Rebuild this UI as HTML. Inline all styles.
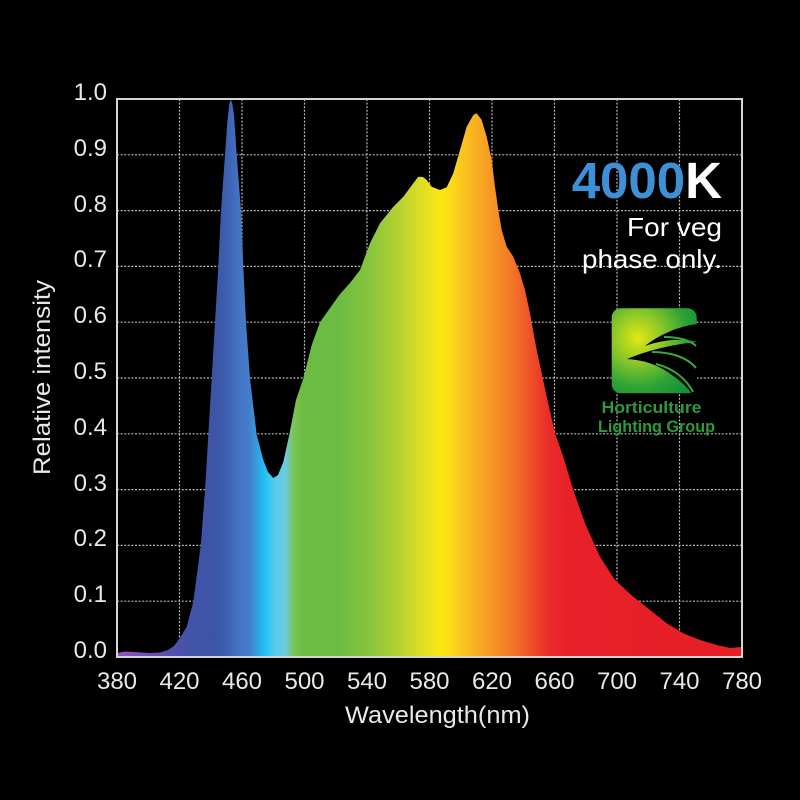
<!DOCTYPE html>
<html><head><meta charset="utf-8"><style>
html,body{margin:0;padding:0;background:#000;}
svg{display:block;}
text{font-family:"Liberation Sans",Arial,sans-serif;}
</style></head><body>
<svg width="800" height="800" viewBox="0 0 800 800" xmlns="http://www.w3.org/2000/svg">
<defs>
<linearGradient id="spec" gradientUnits="userSpaceOnUse" x1="117" y1="0" x2="742" y2="0">
<stop offset="0" stop-color="#9a50c0"/>
<stop offset="0.077" stop-color="#5a50b0"/>
<stop offset="0.109" stop-color="#4652a8"/>
<stop offset="0.157" stop-color="#3c55a6"/>
<stop offset="0.173" stop-color="#3e5eb0"/>
<stop offset="0.192" stop-color="#4470c0"/>
<stop offset="0.213" stop-color="#4380cc"/>
<stop offset="0.229" stop-color="#2aaee8"/>
<stop offset="0.238" stop-color="#20c4f2"/>
<stop offset="0.253" stop-color="#5ccaea"/>
<stop offset="0.270" stop-color="#6ccbe0"/>
<stop offset="0.283" stop-color="#7cc454"/>
<stop offset="0.296" stop-color="#6cbc44"/>
<stop offset="0.357" stop-color="#6cbc44"/>
<stop offset="0.405" stop-color="#88c43e"/>
<stop offset="0.453" stop-color="#b8d230"/>
<stop offset="0.493" stop-color="#e4e020"/>
<stop offset="0.520" stop-color="#fae812"/>
<stop offset="0.536" stop-color="#fcd81a"/>
<stop offset="0.565" stop-color="#f9b820"/>
<stop offset="0.597" stop-color="#f69a24"/>
<stop offset="0.629" stop-color="#f27a28"/>
<stop offset="0.661" stop-color="#ee5228"/>
<stop offset="0.690" stop-color="#ea2c2a"/>
<stop offset="0.725" stop-color="#e8202a"/>
<stop offset="1" stop-color="#e61e25"/>
</linearGradient>
<radialGradient id="logo" gradientUnits="userSpaceOnUse" cx="638" cy="338" r="70">
<stop offset="0" stop-color="#e2e812"/>
<stop offset="0.35" stop-color="#8cc828"/>
<stop offset="0.7" stop-color="#2fa436"/>
<stop offset="1" stop-color="#139038"/>
</radialGradient>
</defs>

<rect x="0" y="0" width="800" height="800" fill="#000"/>

<!-- grid -->
<g stroke="#b8b8b8" stroke-width="1.2" stroke-dasharray="2 1.6" fill="none">
<line x1="179.5" y1="99" x2="179.5" y2="657"/>
<line x1="242" y1="99" x2="242" y2="657"/>
<line x1="304.5" y1="99" x2="304.5" y2="657"/>
<line x1="367" y1="99" x2="367" y2="657"/>
<line x1="429.5" y1="99" x2="429.5" y2="657"/>
<line x1="492" y1="99" x2="492" y2="657"/>
<line x1="554.5" y1="99" x2="554.5" y2="657"/>
<line x1="617" y1="99" x2="617" y2="657"/>
<line x1="679.5" y1="99" x2="679.5" y2="657"/>
<line x1="117" y1="154.8" x2="742" y2="154.8"/>
<line x1="117" y1="210.6" x2="742" y2="210.6"/>
<line x1="117" y1="266.4" x2="742" y2="266.4"/>
<line x1="117" y1="322.2" x2="742" y2="322.2"/>
<line x1="117" y1="378" x2="742" y2="378"/>
<line x1="117" y1="433.8" x2="742" y2="433.8"/>
<line x1="117" y1="489.6" x2="742" y2="489.6"/>
<line x1="117" y1="545.4" x2="742" y2="545.4"/>
<line x1="117" y1="601.2" x2="742" y2="601.2"/>
</g>

<!-- spectrum -->
<polygon fill="url(#spec)" points="117,657 117,653 125,651.5 135,652 150,653 160,652.5 168,650 174,646 180,638 186.7,626.7 193.3,601.7 200.7,546 205,490.6 208.3,434.8 211.7,378.6 215,322.2 218.3,266.4 221,210.6 225,154.8 227.5,120 229.3,104 230.7,99.5 232.2,103 234,115 236.7,154.8 241,210.6 243.3,266.4 246,322.2 250,378.6 256.7,434.8 263.3,460 268,472 273.3,478 278,475 283.3,462 289.3,434.8 296,400 303.3,378.6 311.7,345 320,322.2 330,308 340,294 350,283 360,270 370,243.3 380,223.3 393.3,206.7 403.3,196.7 413.3,183.3 418.3,176.7 423,177 426.7,180 431.7,186.7 440,190 446.7,187.3 453.3,173.3 460,150 466.7,126.7 473.3,115 476.7,113.3 481.7,120 486.7,136.7 491.7,160 495,186.7 498.3,210 501.7,230 506.7,246.7 513.3,256.7 520,273.3 525,290 530,313.3 536.7,350 546.7,396.7 555,433.3 563.3,456.7 573.3,490 585,523.3 600,556.7 615,580 633.3,596.7 650,610 666.7,623.3 683.3,633.3 700,640 716.7,645 730,648 741,647 741,657"/>

<!-- frame -->
<rect x="117" y="99" width="625" height="558" fill="none" stroke="#d4d4d4" stroke-width="2"/>

<!-- y tick labels -->
<g fill="#e8e8e8" font-size="24" text-anchor="end">
<text x="107" y="100">1.0</text>
<text x="107" y="156">0.9</text>
<text x="107" y="212">0.8</text>
<text x="107" y="267">0.7</text>
<text x="107" y="323">0.6</text>
<text x="107" y="379">0.5</text>
<text x="107" y="435">0.4</text>
<text x="107" y="491">0.3</text>
<text x="107" y="546">0.2</text>
<text x="107" y="602">0.1</text>
<text x="107" y="658">0.0</text>
</g>

<!-- x tick labels -->
<g fill="#e8e8e8" font-size="24" text-anchor="middle">
<text x="117" y="689">380</text>
<text x="179.5" y="689">420</text>
<text x="242" y="689">460</text>
<text x="304.5" y="689">500</text>
<text x="367" y="689">540</text>
<text x="429.5" y="689">580</text>
<text x="492" y="689">620</text>
<text x="554.5" y="689">660</text>
<text x="617" y="689">700</text>
<text x="679.5" y="689">740</text>
<text x="742" y="689">780</text>
</g>

<!-- axis titles -->
<text x="437.5" y="723" fill="#e8e8e8" font-size="24" text-anchor="middle" textLength="185" lengthAdjust="spacingAndGlyphs">Wavelength(nm)</text>
<text transform="translate(50,377.5) rotate(-90)" x="0" y="0" fill="#e8e8e8" font-size="24" text-anchor="middle" textLength="195" lengthAdjust="spacingAndGlyphs">Relative intensity</text>

<!-- annotation -->
<text x="722" y="198" font-size="51" font-weight="bold" text-anchor="end"><tspan fill="#3d8fd6">4000</tspan><tspan fill="#ffffff">K</tspan></text>
<text x="722" y="236" fill="#ffffff" font-size="26" text-anchor="end" textLength="95" lengthAdjust="spacingAndGlyphs">For veg</text>
<text x="722" y="268" fill="#ffffff" font-size="26" text-anchor="end" textLength="140" lengthAdjust="spacingAndGlyphs">phase only.</text>

<!-- logo -->
<rect x="611.7" y="308.3" width="85" height="85" rx="9" ry="9" fill="url(#logo)"/>
<path d="M697,324 C680,326 660,334 645,346 C662,340 680,338 697,342 Z" fill="#000"/>
<path d="M697,342 C675,344 648,350 627,359 C645,360 660,366 672,375 C682,382 688,388 692,394 L697,394 Z" fill="#000"/>
<path d="M664,337 C678,337 690,340 696,346" stroke="#3aa83a" stroke-width="2" fill="none"/>
<path d="M652,352 C672,352 688,358 696,368" stroke="#3aa83a" stroke-width="2" fill="none"/>
<path d="M656,364 C672,368 686,378 693,392" stroke="#3aa83a" stroke-width="2" fill="none"/>
<text x="651.5" y="413" fill="#2e9a3a" font-size="17" font-weight="bold" text-anchor="middle" textLength="100" lengthAdjust="spacingAndGlyphs">Horticulture</text>
<text x="656.5" y="432" fill="#2e9a3a" font-size="17" font-weight="bold" text-anchor="middle" textLength="117" lengthAdjust="spacingAndGlyphs">Lighting Group</text>
</svg>
</body></html>
